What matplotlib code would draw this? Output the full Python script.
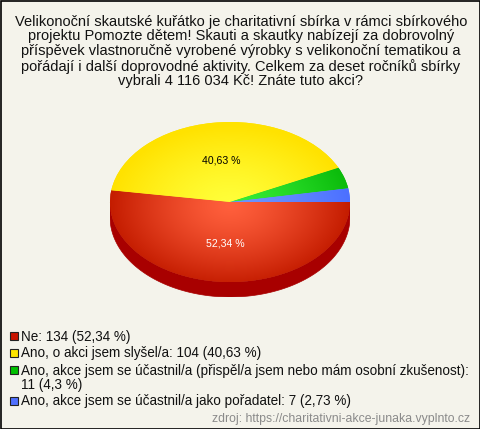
import numpy as np
import matplotlib
matplotlib.use("Agg")
import matplotlib.pyplot as plt
from matplotlib.patches import Rectangle, Polygon

plt.rcParams["font.family"] = ["Liberation Sans", "DejaVu Sans"]

# ---- data ----
TITLE = ("Velikonoční skautské kuřátko je charitativní sbírka v rámci sbírkového\n"
         "projektu Pomozte dětem! Skauti a skautky nabízejí za dobrovolný\n"
         "příspěvek vlastnoručně vyrobené výrobky s velikonoční tematikou a\n"
         "pořádají i další doprovodné aktivity. Celkem za deset ročníků sbírky\n"
         "vybrali 4 116 034 Kč! Znáte tuto akci?")
answers = ["Ne",
           "Ano, o akci jsem slyšel/a",
           "Ano, akce jsem se účastnil/a (přispěl/a jsem nebo mám osobní zkušenost)",
           "Ano, akce jsem se účastnil/a jako pořadatel"]
counts = [134, 104, 11, 7]
percents = [52.34, 40.63, 4.3, 2.73]
SOURCE = "zdroj: https://charitativni-akce-junaka.vyplnto.cz"

# colours: (light centre, rim, side, legend)
top_light = ["#ff5f3c", "#ffff3a", "#38ee38", "#6e96ff"]
top_rim = ["#c41c00", "#ffe200", "#0cbc0c", "#4c70ff"]
side_col = ["#a80000", "#c8b000", "#008a00", "#2848c0"]
legend_col = ["#c81400", "#ffe600", "#00c000", "#5070ff"]
text_col = ["white", "black", "black", "black"]
BG = "#f4f3eb"

W, H = 480, 429
fig = plt.figure(figsize=(W / 100, H / 100), dpi=100)
fig.patch.set_facecolor(BG)

bg = fig.add_axes([0, 0, 1, 1])
bg.set_xlim(0, W)
bg.set_ylim(H, 0)
bg.axis("off")
bg.add_patch(Rectangle((0.5, 0.5), W - 1, H - 1, fill=False, edgecolor="black", lw=1.2))

bg.text(241, 51.5, TITLE, ha="center", va="center", fontsize=10.55,
        linespacing=1.06, color="#111111")

# ---- pie (ellipse with depth) ----
cx, cy, rx, ry, depth = 230, 202, 120, 80, 15
d = depth / ry
pax = fig.add_axes([(cx - rx) / W, (H - (cy + ry + depth)) / H, 2 * rx / W, (2 * ry + depth) / H])

# slice angles, clockwise from 3 o'clock
fr = np.array(counts) / sum(counts)
ends = -360 * np.cumsum(fr)
starts = np.concatenate([[0], ends[:-1]])
for i in range(len(counts)):
    a0, a1 = ends[i] % 360, starts[i] % 360 if starts[i] % 360 else 360
    if a1 < a0:
        a1 += 360
    lo, hi = max(a0, 180), min(a1, 360)
    if hi > lo:
        t = np.radians(np.linspace(lo, hi, 100))
        pts = np.vstack([np.c_[np.cos(t), np.sin(t)],
                         np.c_[np.cos(t[::-1]), np.sin(t[::-1]) - d]])
        pax.add_patch(Polygon(pts, closed=True, facecolor=side_col[i], edgecolor=side_col[i], lw=0.5, zorder=1))

lbl_iter = iter([f"{p:.2f}".replace(".", ",") + " %" if p > 10 else "" for p in percents])
wedges, _, autotexts = pax.pie(counts, colors=top_rim, startangle=0, counterclock=False,
                               autopct=lambda p: next(lbl_iter), pctdistance=0.52,
                               wedgeprops=dict(linewidth=0))
for w in wedges:
    w.set_zorder(2)

yy, xx = np.mgrid[1:-1:300j, -1:1:300j]
r = np.clip(np.hypot(xx, yy + 0.05), 0, 1)[..., None]
for i, w in enumerate(wedges):
    c0 = np.array(matplotlib.colors.to_rgb(top_light[i]))
    c1 = np.array(matplotlib.colors.to_rgb(top_rim[i]))
    img = c0 * (1 - r ** 1.3) + c1 * r ** 1.3
    im = pax.imshow(img, extent=(-1, 1, -1, 1), aspect="auto", zorder=3, interpolation="bilinear")
    im.set_clip_path(w)

for i, t in enumerate(autotexts):
    t.set_color(text_col[i])
    t.set_fontsize(7.6)
    t.set_zorder(5)

pax.set_aspect("auto")
pax.set_xlim(-1, 1)
pax.set_ylim(-1 - d, 1)
pax.axis("off")

# ---- legend ----
leg_y = [336, 353, 370, 401]
for i, name in enumerate(answers):
    y = leg_y[i]
    bg.add_patch(Rectangle((10, y - 4), 8, 8, facecolor=legend_col[i], edgecolor="#222222", lw=0.8))
    pct = f"{percents[i]:g}".replace(".", ",")
    label = f"{name}: {counts[i]} ({pct} %)"
    if len(label) > 75:
        label = f"{name}:\n{counts[i]} ({pct} %)"
    bg.text(21, y - 6.5, label, ha="left", va="top", fontsize=9.75, linespacing=1.0, color="#111111")

bg.text(470, 419, SOURCE, ha="right", va="center", fontsize=8.8, color="#8a8a8a")

fig.savefig("out.png", dpi=100, facecolor=BG)
